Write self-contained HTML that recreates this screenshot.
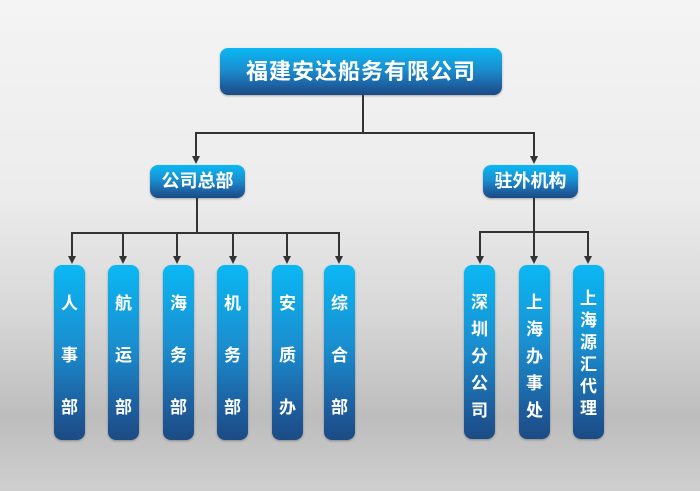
<!DOCTYPE html>
<html><head><meta charset="utf-8"><style>
body{margin:0;width:700px;height:491px;overflow:hidden;position:relative;font-family:"Liberation Sans","Noto Sans CJK SC",sans-serif;
background:linear-gradient(180deg,#f4f4f4 0%,#ececec 40%,#d6d6d6 65%,#bdbdbd 85%,#cfcfcf 100%);}
.b{position:absolute;border-radius:8px;background:linear-gradient(180deg,#0ab8f4 0%,#1a8fd0 45%,#1d5a9a 85%,#1b4b83 100%);color:#fff;font-weight:bold;text-align:center;box-shadow:0 1px 2px rgba(0,0,0,.3);}
.h{font-size:18px;}
.v{width:31px;top:265px;height:175px;font-size:17px;display:flex;flex-direction:column;align-items:center;}
.l{position:absolute;background:#333;}
.a{position:absolute;width:0;height:0;border-left:4px solid transparent;border-right:4px solid transparent;border-top:8px solid #333;}
</style></head><body>
<div class="b h" style="left:220px;top:48px;width:282px;height:47px;line-height:47px;font-size:22px;letter-spacing:1px">福建安达船务有限公司</div>
<div class="b h" style="left:150px;top:165px;width:95px;height:33px;line-height:33px">公司总部</div>
<div class="b h" style="left:483px;top:165px;width:95px;height:33px;line-height:33px">驻外机构</div>
<div class="l" style="left:362px;top:95px;width:2px;height:38px"></div>
<div class="l" style="left:195px;top:132px;width:340px;height:2px"></div>
<div class="l" style="left:195px;top:132px;width:2px;height:25px"></div>
<div class="l" style="left:533px;top:132px;width:2px;height:25px"></div>
<div class="a" style="left:192px;top:156px"></div>
<div class="a" style="left:530px;top:156px"></div>
<div class="l" style="left:196px;top:198px;width:2px;height:35px"></div>
<div class="l" style="left:71px;top:232px;width:269px;height:2px"></div>
<div class="l" style="left:71px;top:232px;width:2px;height:25px"></div><div class="a" style="left:68px;top:256px"></div>
<div class="l" style="left:122px;top:232px;width:2px;height:25px"></div><div class="a" style="left:119px;top:256px"></div>
<div class="l" style="left:176px;top:232px;width:2px;height:25px"></div><div class="a" style="left:173px;top:256px"></div>
<div class="l" style="left:232px;top:232px;width:2px;height:25px"></div><div class="a" style="left:229px;top:256px"></div>
<div class="l" style="left:286px;top:232px;width:2px;height:25px"></div><div class="a" style="left:283px;top:256px"></div>
<div class="l" style="left:338px;top:232px;width:2px;height:25px"></div><div class="a" style="left:335px;top:256px"></div>
<div class="l" style="left:533px;top:198px;width:2px;height:35px"></div>
<div class="l" style="left:479px;top:231px;width:110px;height:2px"></div>
<div class="l" style="left:479px;top:231px;width:2px;height:26px"></div><div class="a" style="left:476px;top:256px"></div>
<div class="l" style="left:533px;top:231px;width:2px;height:26px"></div><div class="a" style="left:530px;top:256px"></div>
<div class="l" style="left:587px;top:231px;width:2px;height:26px"></div><div class="a" style="left:584px;top:256px"></div>
<div class="b v" style="left:54px"><div style="margin-top:13px;line-height:52px">人<br>事<br>部</div></div>
<div class="b v" style="left:108px"><div style="margin-top:13px;line-height:52px">航<br>运<br>部</div></div>
<div class="b v" style="left:163px"><div style="margin-top:13px;line-height:52px">海<br>务<br>部</div></div>
<div class="b v" style="left:217px"><div style="margin-top:13px;line-height:52px">机<br>务<br>部</div></div>
<div class="b v" style="left:272px"><div style="margin-top:13px;line-height:52px">安<br>质<br>办</div></div>
<div class="b v" style="left:324px"><div style="margin-top:13px;line-height:52px">综<br>合<br>部</div></div>
<div class="b v" style="left:464px;height:174px"><div style="margin-top:24px;line-height:27px">深<br>圳<br>分<br>公<br>司</div></div>
<div class="b v" style="left:519px;height:174px"><div style="margin-top:24px;line-height:27px">上<br>海<br>办<br>事<br>处</div></div>
<div class="b v" style="left:573px;height:174px"><div style="margin-top:23px;line-height:22px">上<br>海<br>源<br>汇<br>代<br>理</div></div>
</body></html>
